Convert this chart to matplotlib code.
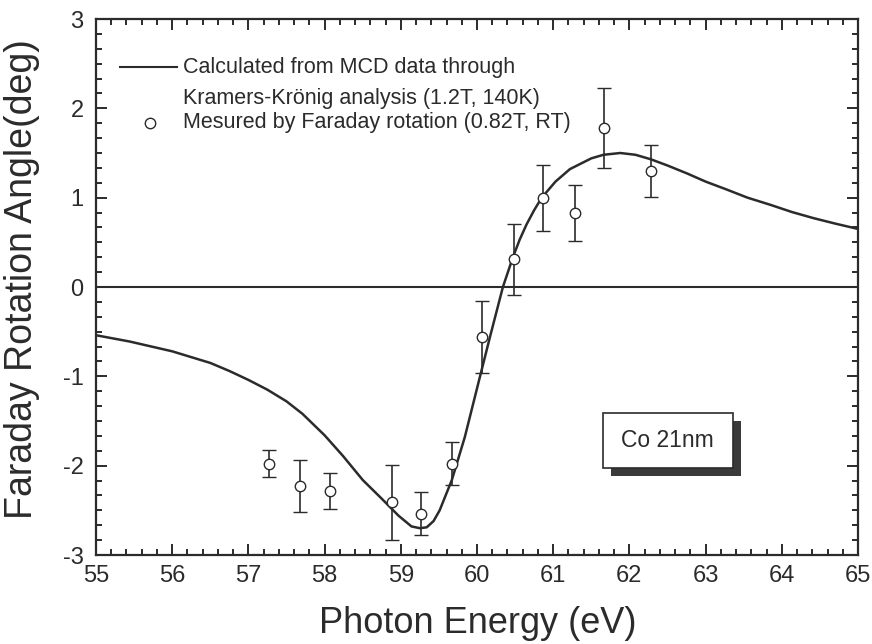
import numpy as np
import matplotlib
matplotlib.use("Agg")
import matplotlib.pyplot as plt
from matplotlib.lines import Line2D
from matplotlib.patches import Rectangle
from matplotlib.ticker import MultipleLocator

plt.rcParams['font.family'] = ['Liberation Sans', 'DejaVu Sans']
plt.rcParams['axes.unicode_minus'] = False

INK = '#2b2b2b'

# Kramers-Kronig result (smooth curve)
calc_energy = [55.0, 55.44, 56.0, 56.5, 56.75, 57.0, 57.25, 57.5, 57.71, 58.0,
               58.24, 58.5, 58.75, 58.97, 59.14, 59.25, 59.34, 59.43, 59.51,
               59.67, 59.84, 60.04, 60.17, 60.34, 60.47, 60.56, 60.65, 60.75,
               60.85, 61.03, 61.22, 61.5, 61.66, 61.88, 62.08, 62.28, 62.5,
               62.76, 63.0, 63.28, 63.55, 63.85, 64.13, 64.42, 64.7, 65.0]
calc_angle = [-0.54, -0.61, -0.72, -0.85, -0.94, -1.04, -1.15, -1.28, -1.42, -1.66,
              -1.89, -2.16, -2.37, -2.56, -2.68, -2.70, -2.69, -2.62, -2.50,
              -2.16, -1.68, -1.00, -0.56, 0.0, 0.33, 0.53, 0.70, 0.86,
              1.00, 1.18, 1.32, 1.44, 1.48, 1.50, 1.48, 1.43, 1.36,
              1.27, 1.18, 1.09, 1.00, 0.92, 0.84, 0.77, 0.71, 0.65]

# Faraday rotation measurements
meas_energy = [57.27, 57.68, 58.07, 58.88, 59.27, 59.67, 60.07, 60.48, 60.87, 61.28, 61.67, 62.28]
meas_angle = [-1.98, -2.23, -2.28, -2.41, -2.54, -1.98, -0.56, 0.31, 1.00, 0.83, 1.78, 1.30]
meas_err = [0.15, 0.29, 0.20, 0.42, 0.24, 0.24, 0.40, 0.40, 0.37, 0.31, 0.45, 0.29]

legend_lines = ["Calculated from MCD data through",
                "Kramers-Krönig analysis (1.2T, 140K)",
                "Mesured by Faraday rotation (0.82T, RT)"]

fig = plt.figure(figsize=(8.72, 6.44), dpi=100)
ax = fig.add_axes([96 / 872, 89 / 644, 762 / 872, 536 / 644])

ax.axhline(0, color=INK, lw=1.5, zorder=1)
ax.plot(calc_energy, calc_angle, color=INK, lw=1.8, zorder=2)
ax.errorbar(meas_energy, meas_angle, yerr=meas_err, fmt='o', ms=7.5,
            mfc='white', mec=INK, mew=1.0, ecolor=INK, elinewidth=1.2,
            capsize=5, capthick=1.2, zorder=3)

ax.set_xlim(55, 65)
ax.set_ylim(-3, 3)
ax.xaxis.set_major_locator(MultipleLocator(1))
ax.xaxis.set_minor_locator(MultipleLocator(0.2))
ax.yaxis.set_major_locator(MultipleLocator(1))
ax.yaxis.set_minor_locator(MultipleLocator(1 / 6))
ax.tick_params(which='both', direction='in', top=True, right=True,
               color=INK, width=1.4, labelcolor=INK, labelsize=17)
ax.tick_params(which='major', length=8)
ax.tick_params(which='minor', length=4)
ax.tick_params(axis='x', pad=7)
ax.tick_params(axis='y', pad=9)
for sp in ax.spines.values():
    sp.set_color(INK)
    sp.set_linewidth(1.6)

ax.set_xlabel('Photon Energy (eV)', fontsize=26, color=INK)
ax.set_ylabel('Faraday Rotation Angle(deg)', fontsize=27, color=INK)
ax.xaxis.set_label_coords(0.501, -0.095)
ax.yaxis.set_label_coords(-0.074, 0.515)

# hand-built legend (first entry spans two lines)
tr = ax.transAxes
ax.add_line(Line2D([0.0315, 0.1063], [0.910, 0.910], transform=tr, color=INK, lw=1.5))
ax.add_line(Line2D([0.0709], [0.806], transform=tr, marker='o', ms=7.5,
                   mfc='white', mec=INK, mew=1.0, ls='none'))
for yy, s in zip([0.910, 0.852, 0.806], legend_lines):
    ax.text(0.114, yy, s, transform=tr, fontsize=15.5, color=INK, va='center', ha='left')

# sample label box with drop shadow
ax.add_patch(Rectangle((61.755, -2.12), 1.71, 0.62, facecolor='#3a3a3a',
                       edgecolor='none', zorder=4))
ax.add_patch(Rectangle((61.65, -2.03), 1.71, 0.62, facecolor='white',
                       edgecolor=INK, lw=1.2, zorder=5))
ax.text(62.50, -1.72, 'Co 21nm', fontsize=16.5, color=INK, ha='center',
        va='center', zorder=6)

fig.savefig('out.png', dpi=100)
